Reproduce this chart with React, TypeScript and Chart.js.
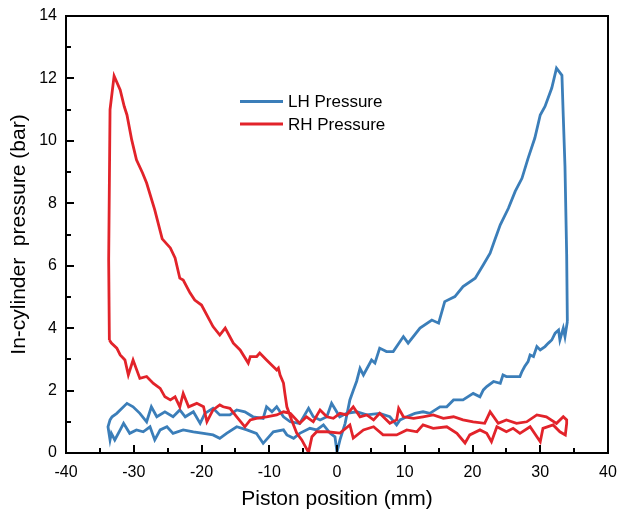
import { useEffect, useRef } from "react";
import { Chart, registerables } from "chart.js";

Chart.register(...registerables);

const FONT = "'Liberation Sans', Arial, Helvetica, sans-serif";

const seriesLabels = ["LH Pressure", "RH Pressure"];
const seriesColors = ["#3b7eb9", "#e2232a"];

const xTitle = "Piston position (mm)";
const yTitle = "In-cylinder  pressure (bar)";

const xRange = [-40, 40];
const yRange = [0, 14];
const xMajorStep = 10;
const xMinorStep = 5;
const yMajorStep = 2;
const yMinorStep = 1;

const lhX = [
  34.0, 33.9, 33.65, 33.4, 33.2, 32.4, 31.7, 30.7, 30.0, 29.2, 28.2, 27.3, 26.3, 25.3, 24.1, 23.3, 22.6,
  21.6, 20.4, 18.6, 17.4, 15.9, 15.0, 14.0, 12.25, 10.5, 9.8, 8.3, 7.3, 6.3, 5.6, 5.1, 3.9, 3.4, 2.9, 2.4,
  1.9, 1.2, 0.44, 0.0, -0.3, -1.0, -2.0, -3.0, -4.0, -5.5, -6.4, -7.4, -7.9, -9.4, -10.9, -11.9, -13.3,
  -14.8, -16.3, -17.3, -18.3, -19.7, -21.2, -22.7, -24.2, -25.1, -26.1, -26.9, -27.6, -28.6, -29.6, -30.6,
  -31.5, -32.0, -32.8, -33.3, -33.5, -33.8, -33.5, -33.2, -32.5, -31.0, -30.1, -29.1, -28.1, -27.4, -26.6,
  -25.4, -24.2, -23.2, -22.4, -21.2, -20.2, -19.5, -18.3, -17.3, -15.8, -14.8, -13.6, -12.4, -10.9, -10.4,
  -9.6, -8.9, -7.9, -6.9, -5.5, -4.2, -3.5, -2.5, -1.5, -0.8, 0.4, 1.4, 2.9, 4.4, 6.3, 7.8, 8.8, 9.3, 10.3,
  11.5, 12.7, 13.7, 15.2, 16.2, 17.2, 18.6, 20.1, 21.1, 21.6, 22.1, 23.1, 24.1, 24.5, 25.0, 27.0, 27.3,
  27.7, 28.2, 28.5, 29.0, 29.5, 30.0, 30.7, 31.2, 31.7, 32.2, 32.7, 32.9, 33.4, 33.65, 34.0,
];
const lhY = [
  4.21, 6.35, 9.18, 10.78, 12.1, 12.33, 11.69, 11.1, 10.83, 10.09, 9.44, 8.8, 8.38, 7.84, 7.31, 6.83, 6.4,
  6.03, 5.6, 5.33, 5.01, 4.85, 4.16, 4.26, 4.0, 3.52, 3.73, 3.25, 3.25, 3.36, 2.88, 2.98, 2.5, 2.71, 2.3, 2.0,
  1.7, 0.95, 0.42, 0.03, 0.52, 0.63, 0.9, 0.74, 0.79, 0.63, 0.47, 0.58, 0.74, 0.68, 0.31, 0.63, 0.74,
  0.84, 0.63, 0.47, 0.58, 0.63, 0.68, 0.74, 0.63, 0.84, 0.74, 0.42, 0.84, 0.68, 0.74, 0.63,
  0.95, 0.74, 0.42, 0.63, 0.42, 0.84, 1.06, 1.16, 1.27, 1.59, 1.48, 1.27, 1.0, 1.48, 1.16,
  1.32, 1.16, 1.38, 1.16, 1.32, 0.95, 1.27, 1.43, 1.22, 1.22, 1.38, 1.32, 1.16, 1.11, 1.48,
  1.32, 1.48, 1.16, 1.0, 0.95, 1.43, 1.16, 1.06, 1.16, 1.59, 1.16, 1.27, 1.32, 1.22, 1.27, 1.16, 0.9, 1.06, 1.16,
  1.27, 1.32, 1.27, 1.48, 1.48, 1.7, 1.7, 1.91, 1.8, 2.02, 2.13, 2.29, 2.23, 2.5, 2.45, 2.45, 2.61,
  2.77, 2.93, 3.14, 3.09, 3.41, 3.3, 3.41, 3.52, 3.62, 3.84, 3.94, 3.62, 4.0, 3.73, 4.21,
];

const rhX = [
  -33.6, -33.7, -33.5, -32.9, -32.0, -31.4, -31.0, -30.3, -29.6, -28.7, -28.1, -26.9, -25.8, -24.6, -23.9,
  -23.2, -22.7, -21.7, -21.0, -20.0, -18.3, -17.3, -16.5, -15.3, -14.3, -13.1, -12.8, -11.85, -11.4, -10.4,
  -8.9, -8.65, -8.4, -7.9, -7.7, -7.4, -6.7, -5.95, -5.2, -4.2, -3.7, -3.0, -1.5, 0.44, 1.9, 2.4, 3.9, 5.4,
  6.8, 8.8, 10.3, 11.8, 12.7, 14.2, 16.2, 17.7, 18.9, 19.6, 21.1, 22.1, 22.8, 23.6, 25.0, 26.0, 27.0, 28.5,
  30.0, 30.4, 31.9, 32.9, 33.7, 33.9, 33.9, 33.4, 32.4, 30.9, 29.5, 28.0, 26.5, 25.0, 23.8, 22.6, 21.8,
  20.1, 18.6, 17.2, 15.7, 14.2, 12.7, 11.3, 9.8, 9.1, 8.8, 7.8, 6.3, 5.4, 4.4, 3.4, 2.4, 1.4, 0.44, -0.54,
  -1.5, -2.5, -3.5, -4.5, -5.5, -6.9, -7.9, -8.9, -10.4, -11.9, -12.8, -13.6, -14.8, -15.8, -16.8, -17.3,
  -18.3, -19.2, -19.7, -20.7, -21.9, -22.7, -23.2, -23.9, -24.6, -25.4, -26.1, -27.1, -28.1, -29.1, -30.1,
  -30.8, -31.3, -32.0, -32.5, -33.3, -33.6,
];
const rhY = [
  3.62, 6.2, 11.0, 12.08, 11.63, 11.1, 10.83, 10.03, 9.39, 8.97, 8.65, 7.79, 6.86, 6.57, 6.25,
  5.6, 5.54, 5.13, 4.9, 4.74, 4.05, 3.78, 4.0, 3.52, 3.3, 2.88, 3.09, 3.09, 3.2, 2.98,
  2.66, 2.72, 2.5, 2.24, 1.92, 1.48, 1.06, 0.64, 0.42, 0.02, 0.52, 0.68, 0.68, 0.64, 0.9, 0.48, 0.74, 0.84,
  0.58, 0.58, 0.74, 0.68, 0.9, 0.79, 0.84, 0.63, 0.32, 0.58, 0.74, 0.63, 0.36, 0.84, 0.68, 0.79, 0.63, 0.84,
  0.36, 0.79, 0.9, 0.68, 0.58, 0.95, 1.06, 1.16, 0.95, 1.16, 1.22, 1.0, 0.95, 1.06, 0.95, 1.32, 0.95,
  1.0, 1.06, 1.16, 1.11, 1.22, 1.16, 1.11, 1.16, 1.43, 1.06, 0.95, 1.27, 1.06, 1.22, 1.16, 1.48, 1.22, 1.27, 1.11,
  1.16, 1.38, 1.0, 1.16, 0.95, 1.27, 1.32, 1.22, 1.16, 1.11, 1.06, 0.84, 1.16, 1.43, 1.48, 1.54,
  1.38, 1.0, 1.48, 1.59, 1.48, 1.91, 1.48, 1.8, 1.7, 1.8, 2.07, 2.23, 2.45, 2.39, 2.98,
  2.5, 2.98, 3.14, 3.36, 3.52, 3.62,
];

function toPoints(xs: number[], ys: number[]) {
  return xs.map((x, i) => ({ x, y: ys[i] }));
}

const framePlugin = {
  id: "frameAndLegend",
  afterDraw(chart: any) {
    const ctx = chart.ctx as CanvasRenderingContext2D;
    const xs = chart.scales.x;
    const ys = chart.scales.y;
    const L = Math.round(xs.getPixelForValue(xRange[0]));
    const R = Math.round(xs.getPixelForValue(xRange[1]));
    const T = Math.round(ys.getPixelForValue(yRange[1]));
    const B = Math.round(ys.getPixelForValue(yRange[0]));
    const w = 2;
    ctx.save();
    ctx.fillStyle = "#000000";
    ctx.fillRect(L - 1, T - 1, R - L + w, w);
    ctx.fillRect(L - 1, B - 1, R - L + w, w);
    ctx.fillRect(L - 1, T - 1, w, B - T + w);
    ctx.fillRect(R - 1, T - 1, w, B - T + w);
    for (let v = xRange[0]; v <= xRange[1] + 1e-9; v += xMinorStep) {
      const px = Math.round(xs.getPixelForValue(v));
      const major = Math.abs(v % xMajorStep) < 1e-9;
      const len = major ? 8 : 5;
      ctx.fillRect(px - 1, B - len, 2, len);
    }
    for (let v = yRange[0]; v <= yRange[1] + 1e-9; v += yMinorStep) {
      const py = Math.round(ys.getPixelForValue(v));
      const major = Math.abs(v % yMajorStep) < 1e-9;
      const len = major ? 8 : 5;
      ctx.fillRect(L, py - 1, len, 2);
    }
    const legendX = 240;
    const legendY = [101.5, 124];
    ctx.font = `17px ${FONT}`;
    ctx.textBaseline = "middle";
    ctx.textAlign = "left";
    seriesLabels.forEach((label, i) => {
      ctx.fillStyle = seriesColors[i];
      ctx.fillRect(legendX, legendY[i] - 1.5, 43, 3);
      ctx.fillStyle = "#000";
      ctx.fillText(label, legendX + 48, legendY[i] + 1);
    });
    ctx.restore();
  },
};

export default function App() {
  const ref = useRef<HTMLCanvasElement | null>(null);
  useEffect(() => {
    if (!ref.current) return;
    const chart = new Chart(ref.current, {
      type: "scatter",
      data: {
        datasets: [
          {
            label: seriesLabels[0],
            data: toPoints(lhX, lhY),
            showLine: true,
            borderColor: seriesColors[0],
            backgroundColor: seriesColors[0],
            borderWidth: 2.8,
            pointRadius: 0,
            tension: 0,
            order: 1,
          },
          {
            label: seriesLabels[1],
            data: toPoints(rhX, rhY),
            showLine: true,
            borderColor: seriesColors[1],
            backgroundColor: seriesColors[1],
            borderWidth: 2.8,
            pointRadius: 0,
            tension: 0,
            order: 0,
          },
        ],
      },
      options: {
        animation: false,
        responsive: false,
        maintainAspectRatio: false,
        layout: { padding: { top: 16, right: 10, left: 0, bottom: 0 } },
        plugins: { legend: { display: false }, tooltip: { enabled: false } },
        scales: {
          x: {
            type: "linear",
            position: "bottom",
            min: xRange[0],
            max: xRange[1],
            grid: { display: false, drawTicks: false },
            border: { display: true, color: "#000", width: 2 },
            ticks: {
              stepSize: xMajorStep,
              padding: 10,
              color: "#000",
              maxRotation: 0,
              font: { family: FONT, size: 16 },
            },
            title: {
              display: true,
              text: xTitle,
              color: "#000",
              font: { family: FONT, size: 21 },
              padding: { top: 0, bottom: 5 },
            },
            afterFit: (s: any) => {
              s.height = 64;
              s.paddingLeft = 0;
              s.paddingRight = 0;
            },
          },
          y: {
            type: "linear",
            position: "left",
            min: yRange[0],
            max: yRange[1],
            grid: { display: false, drawTicks: false },
            border: { display: true, color: "#000", width: 2 },
            ticks: {
              stepSize: yMajorStep,
              padding: 9,
              color: "#000",
              font: { family: FONT, size: 16 },
            },
            title: {
              display: true,
              text: yTitle,
              color: "#000",
              font: { family: FONT, size: 21 },
              padding: { top: 7, bottom: 0 },
            },
            afterFit: (s: any) => {
              s.width = 66;
              s.paddingTop = 0;
              s.paddingBottom = 0;
            },
          },
        },
      },
      plugins: [framePlugin],
    } as any);
    return () => chart.destroy();
  }, []);
  return (
    <div style={{ position: "fixed", left: 0, top: 0, width: 618, height: 517, background: "#fff" }}>
      <canvas ref={ref} width={618} height={517} style={{ width: 618, height: 517, display: "block" }} />
    </div>
  );
}
